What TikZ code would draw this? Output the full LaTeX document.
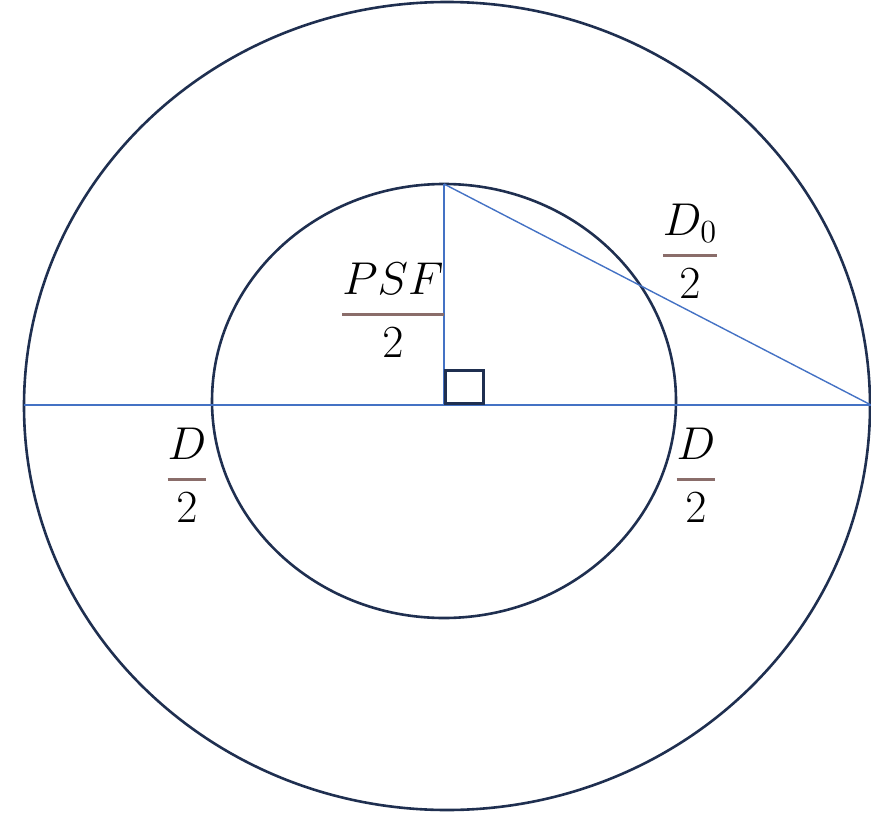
\documentclass[tikz,border=0pt]{standalone}
\usepackage{fix-cm}
\usepackage{amsmath}
\usepackage{xcolor}
\usepackage{tikz}
\usetikzlibrary{positioning}

\definecolor{ringnavy}{HTML}{1F2F50}
\definecolor{guideblue}{HTML}{4472C4}
\definecolor{barbrown}{HTML}{8A6D6A}
\newcommand{\halffrac}[1]{{\color{barbrown}\genfrac{}{}{1.5pt}{0}{\color{black}#1}{\color{black}2}}}

\begin{document}
\begin{tikzpicture}[x=0.5pt,y=-0.5pt,
  ring/.style={draw=ringnavy,line width=1.3pt},
  guide/.style={draw=guideblue,line width=0.7pt},
  every node/.style={font=\fontsize{23}{27}\selectfont,inner sep=0pt,anchor=base}]
  \useasboundingbox (0,0) rectangle (871,818);

  % rings
  \draw[ring] (447,406) ellipse [x radius=211.5pt,y radius=202pt];
  \draw[ring] (444,401) ellipse [x radius=116pt,y radius=108.5pt];

  \coordinate (centre) at (444,405);
  \coordinate (apex) at (444,184);
  \coordinate (west) at (24,405);
  \coordinate (east) at (871,405);

  \draw[guide] (west) -- (east);
  \draw[guide] (centre) -- (apex);
  \draw[guide] (apex) -- (east);
  \node[ring,anchor=south west,minimum width=19pt,minimum height=16.5pt] (rightangle) at (centre) {};

  % labels
  \node (psf) at (393,326) {$\halffrac{PSF}$};
  \node (dzero) at (690,267) {$\halffrac{D_0}$};
  \node (dleft) at (187,491) {$\halffrac{D}$};
  \node (dright) at (696,491) {$\halffrac{D}$};
\end{tikzpicture}
\end{document}
